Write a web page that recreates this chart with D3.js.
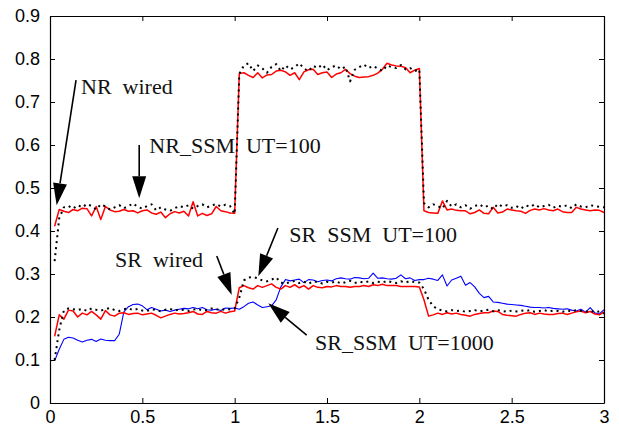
<!DOCTYPE html>
<html>
<head>
<meta charset="utf-8">
<title>NR / SR</title>
<script src="https://d3js.org/d3.v7.min.js"></script>
<style>
  body { margin: 0; background: #fff; }
  svg { display: block; }
</style>
</head>
<body>
<div id="chart"></div>
<script>
// sampling grid: first sample at dt, step dt, last sample at 3.0
var dt = 0.025;

var xTicks = [0, 0.5, 1, 1.5, 2, 2.5, 3];
var yTicks = [0, 0.1, 0.2, 0.3, 0.4, 0.5, 0.6, 0.7, 0.8, 0.9];

// NR, wired (black dotted)
var nrWired = [
  0.33, 0.43, 0.455, 0.458, 0.452, 0.46, 0.455, 0.463, 0.458, 0.45,
  0.462, 0.457, 0.45, 0.455, 0.46, 0.453, 0.458, 0.464, 0.456, 0.452,
  0.458, 0.462, 0.448, 0.455, 0.45, 0.447, 0.453, 0.458, 0.455, 0.46,
  0.452, 0.458, 0.462, 0.455, 0.459, 0.463, 0.457, 0.461, 0.458, 0.44,
  0.765, 0.785, 0.79, 0.772, 0.785, 0.778, 0.768, 0.782, 0.788, 0.772,
  0.785, 0.776, 0.781, 0.79, 0.778, 0.772, 0.784, 0.779, 0.787, 0.774,
  0.781, 0.785, 0.776, 0.782, 0.748, 0.775, 0.781, 0.787, 0.779, 0.784,
  0.778, 0.772, 0.785, 0.781, 0.779, 0.786, 0.776, 0.779, 0.772, 0.776,
  0.465, 0.455, 0.462, 0.458, 0.452, 0.47, 0.457, 0.462, 0.455, 0.46,
  0.452, 0.458, 0.462, 0.455, 0.459, 0.451, 0.463, 0.457, 0.46, 0.454,
  0.458, 0.452, 0.46, 0.456, 0.462, 0.455, 0.458, 0.461, 0.454, 0.459,
  0.456, 0.46, 0.453, 0.462, 0.457, 0.455, 0.46, 0.458, 0.456, 0.455
];

// NR, SSM UT=100 (red)
var nrSsm100 = [
  0.411, 0.45, 0.446, 0.443, 0.45, 0.447, 0.453, 0.452, 0.435, 0.457,
  0.427, 0.457, 0.449, 0.445, 0.446, 0.45, 0.446, 0.447, 0.442, 0.447,
  0.449, 0.442, 0.439, 0.444, 0.431, 0.44, 0.445, 0.442, 0.446, 0.435,
  0.468, 0.435, 0.441, 0.436, 0.44, 0.457, 0.447, 0.445, 0.442, 0.441,
  0.766, 0.768, 0.762, 0.757, 0.768, 0.756, 0.763, 0.764, 0.772, 0.774,
  0.77, 0.762, 0.768, 0.752, 0.77, 0.775, 0.776, 0.764, 0.768, 0.77,
  0.757, 0.765, 0.768, 0.776, 0.766, 0.76, 0.757, 0.758, 0.759, 0.762,
  0.767, 0.776, 0.79, 0.786, 0.784, 0.783, 0.78, 0.768, 0.774, 0.778,
  0.447, 0.443, 0.442, 0.441, 0.47, 0.449, 0.451, 0.448, 0.447, 0.447,
  0.44, 0.443, 0.449, 0.441, 0.44, 0.455, 0.442, 0.444, 0.451, 0.449,
  0.447, 0.446, 0.441, 0.448, 0.451, 0.449, 0.452, 0.449, 0.447, 0.451,
  0.445, 0.443, 0.443, 0.455, 0.451, 0.449, 0.447, 0.449, 0.448, 0.443
];

// SR, wired (black dotted)
var srWired = [
  0.10, 0.17, 0.215, 0.22, 0.218, 0.216, 0.219, 0.214, 0.22, 0.217,
  0.215, 0.218, 0.221, 0.216, 0.214, 0.218, 0.22, 0.216, 0.219, 0.215,
  0.214, 0.218, 0.216, 0.213, 0.217, 0.219, 0.215, 0.218, 0.216, 0.214,
  0.217, 0.219, 0.215, 0.216, 0.22, 0.217, 0.219, 0.216, 0.218, 0.22,
  0.245, 0.285, 0.292, 0.293, 0.29, 0.285, 0.283, 0.287, 0.292, 0.28,
  0.278, 0.281, 0.284, 0.279, 0.282, 0.277, 0.283, 0.281, 0.278, 0.282,
  0.28, 0.283, 0.278, 0.281, 0.284, 0.279, 0.282, 0.28, 0.283, 0.279,
  0.282, 0.28, 0.284, 0.281, 0.279, 0.283, 0.28, 0.284, 0.281, 0.28,
  0.265, 0.24, 0.225, 0.218, 0.215, 0.213, 0.216, 0.214, 0.215, 0.212,
  0.214, 0.216, 0.213, 0.215, 0.217, 0.213, 0.216, 0.214, 0.212, 0.215,
  0.213, 0.215, 0.214, 0.216, 0.212, 0.214, 0.216, 0.213, 0.215, 0.214,
  0.212, 0.215, 0.213, 0.216, 0.214, 0.212, 0.215, 0.211, 0.213, 0.208
];

// SR, SSM UT=100 (red)
var srSsm100 = [
  0.155, 0.205, 0.195, 0.216, 0.214, 0.200, 0.209, 0.205, 0.213, 0.205,
  0.195, 0.215, 0.205, 0.202, 0.209, 0.210, 0.206, 0.208, 0.209, 0.205,
  0.207, 0.209, 0.204, 0.198, 0.202, 0.206, 0.209, 0.207, 0.208, 0.210,
  0.213, 0.207, 0.206, 0.213, 0.210, 0.209, 0.213, 0.209, 0.212, 0.214,
  0.268, 0.273, 0.268, 0.265, 0.273, 0.269, 0.273, 0.277, 0.269, 0.265,
  0.273, 0.269, 0.275, 0.268, 0.273, 0.265, 0.273, 0.269, 0.268, 0.271,
  0.27, 0.273, 0.271, 0.271, 0.269, 0.271, 0.271, 0.273, 0.271, 0.275,
  0.273, 0.276, 0.273, 0.273, 0.273, 0.271, 0.271, 0.271, 0.271, 0.27,
  0.24, 0.202, 0.205, 0.209, 0.206, 0.210, 0.207, 0.209, 0.206, 0.204,
  0.202, 0.206, 0.208, 0.21, 0.21, 0.214, 0.213, 0.206, 0.204, 0.203,
  0.202, 0.206, 0.209, 0.21, 0.206, 0.209, 0.207, 0.206, 0.206, 0.208,
  0.209, 0.206, 0.209, 0.212, 0.214, 0.21, 0.213, 0.207, 0.205, 0.212
];

// SR, SSM UT=1000 (blue)
var srSsm1000 = [
  0.098, 0.125, 0.148, 0.153, 0.151, 0.146, 0.142, 0.146, 0.148, 0.143,
  0.149, 0.146, 0.145, 0.145, 0.16, 0.212, 0.224, 0.229, 0.23, 0.226,
  0.217, 0.222, 0.218, 0.214, 0.216, 0.213, 0.216, 0.218, 0.22, 0.219,
  0.222, 0.219, 0.222, 0.217, 0.216, 0.218, 0.215, 0.221, 0.22, 0.221,
  0.218, 0.224, 0.232, 0.235, 0.228, 0.222, 0.224, 0.226, 0.24, 0.27,
  0.287, 0.284, 0.286, 0.288, 0.28, 0.287, 0.286, 0.282, 0.285, 0.286,
  0.284, 0.289, 0.291, 0.289, 0.288, 0.292, 0.291, 0.289, 0.29, 0.302,
  0.29, 0.291, 0.289, 0.288, 0.29, 0.298, 0.289, 0.291, 0.285, 0.287,
  0.287, 0.29, 0.288, 0.285, 0.298, 0.272, 0.286, 0.29, 0.295, 0.274,
  0.28, 0.27, 0.255, 0.245, 0.248, 0.235, 0.234, 0.232, 0.23, 0.229,
  0.228, 0.227, 0.225, 0.223, 0.222, 0.222, 0.221, 0.222, 0.22, 0.219,
  0.218, 0.219, 0.216, 0.214, 0.218, 0.211, 0.222, 0.21, 0.207, 0.217
];

// text labels with arrow: [label, textX, textY, arrowFromX, arrowFromY, arrowToX, arrowToY] in data units
var notes = [
  ["NR  wired",        0.168, 0.719, 0.141, 0.751, 0.036, 0.460],
  ["NR_SSM  UT=100",   0.538, 0.582, 0.483, 0.600, 0.483, 0.476],
  ["SR  wired",        0.352, 0.317, 0.903, 0.342, 0.984, 0.251],
  ["SR  SSM  UT=100",  1.296, 0.375, 1.234, 0.407, 1.128, 0.295],
  ["SR_SSM  UT=1000",  1.435, 0.123, 1.390, 0.158, 1.182, 0.232]
];

drawChart();

function drawChart() {
    var width = 619, height = 427;
    var m = {left: 50, right: 15, top: 16, bottom: 24};

    var svg = d3.select("#chart").append("svg")
        .attr("width", width)
        .attr("height", height);

    var x = d3.scaleLinear().domain([0, 3]).range([m.left, width - m.right]);
    var y = d3.scaleLinear().domain([0, 0.9]).range([height - m.bottom, m.top]);

    var line = d3.line()
        .defined(function(d) { return d != null; })
        .x(function(d, i) { return x((i + 1) * dt); })
        .y(function(d) { return y(d); });

    function drawSeries(data, color, w, dash) {
        svg.append("path")
            .datum(data)
            .attr("fill", "none")
            .attr("stroke", color)
            .attr("stroke-width", w)
            .attr("stroke-dasharray", dash)
            .attr("stroke-linejoin", "round")
            .attr("d", line);
    }

    drawSeries(srSsm1000, "#0000ff", 1.1, null);
    drawSeries(nrSsm100, "#ff0000", 1.5, null);
    drawSeries(srSsm100, "#ff0000", 1.5, null);
    drawSeries(nrWired, "#000000", 2, "2,4");
    drawSeries(srWired, "#000000", 2, "2,4");

    // axes, matlab style: box with inward ticks on every side
    var font = "'Liberation Sans', Arial, sans-serif";
    var bottom = svg.append("g").attr("transform", "translate(0," + y(0) + ")")
        .call(d3.axisBottom(x).tickValues(xTicks).tickSizeInner(-5).tickSizeOuter(0).tickPadding(7)
              .tickFormat(d3.format("")));
    var top = svg.append("g").attr("transform", "translate(0," + y(0.9) + ")")
        .call(d3.axisTop(x).tickValues(xTicks).tickSizeInner(-5).tickSizeOuter(0).tickFormat(""));
    var left = svg.append("g").attr("transform", "translate(" + x(0) + ",0)")
        .call(d3.axisLeft(y).tickValues(yTicks).tickSizeInner(-5).tickSizeOuter(0).tickPadding(10)
              .tickFormat(d3.format("")));
    var right = svg.append("g").attr("transform", "translate(" + x(3) + ",0)")
        .call(d3.axisRight(y).tickValues(yTicks).tickSizeInner(-5).tickSizeOuter(0).tickFormat(""));

    [bottom, top, left, right].forEach(function(g) {
        g.selectAll("path").attr("stroke", "#000").attr("stroke-width", 1.2);
        g.selectAll("line").attr("stroke", "#000").attr("stroke-width", 1);
        g.selectAll("text").attr("font-family", font).attr("font-size", 18).attr("fill", "#000");
    });

    // annotations
    var ann = svg.append("g");
    notes.forEach(function(n) {
        ann.append("text")
            .attr("x", x(n[1]))
            .attr("y", y(n[2]))
            .attr("font-family", "'Liberation Serif', 'Times New Roman', serif")
            .attr("font-size", 22)
            .attr("fill", "#111")
            .style("white-space", "pre")
            .text(n[0]);

        var x0 = x(n[3]), y0 = y(n[4]), x1 = x(n[5]), y1 = y(n[6]);
        var dx = x1 - x0, dy = y1 - y0, len = Math.sqrt(dx * dx + dy * dy);
        var ux = dx / len, uy = dy / len;
        var hl = 22, hw = 7;
        var bx = x1 - ux * hl, by = y1 - uy * hl;

        ann.append("line")
            .attr("x1", x0).attr("y1", y0)
            .attr("x2", bx).attr("y2", by)
            .attr("stroke", "#000").attr("stroke-width", 1.6);

        ann.append("path")
            .attr("d", "M" + x1 + "," + y1 +
                       "L" + (bx - uy * hw) + "," + (by + ux * hw) +
                       "L" + (bx + uy * hw) + "," + (by - ux * hw) + "Z")
            .attr("fill", "#000");
    });
}
</script>
</body>
</html>
